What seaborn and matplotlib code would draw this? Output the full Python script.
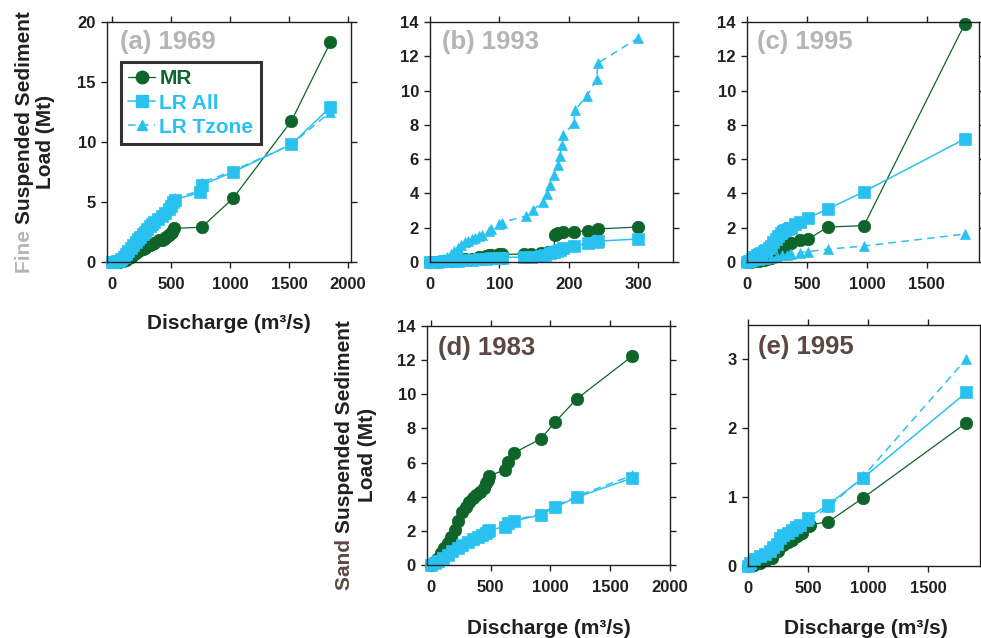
import matplotlib
matplotlib.use("Agg")
import matplotlib.pyplot as plt
from matplotlib.lines import Line2D
import seaborn as sns

# ---- data ----
# (a) 1969 fine
a_mr_x = [0, 30, 60, 90, 120, 140, 160, 180, 200, 220, 240, 260, 280, 300, 320, 340, 360, 400, 420, 440,
          460, 480, 500, 510, 525, 760, 1025, 1520, 1850]
a_mr_y = [0, 0, 0.02, 0.05, 0.15, 0.3, 0.45, 0.6, 0.75, 0.9, 1.0, 1.1, 1.2, 1.3, 1.4, 1.5, 1.6, 1.8, 1.85, 1.95,
          2.1, 2.25, 2.4, 2.5, 2.8, 2.9, 5.3, 11.75, 18.3]
a_all_x = [0, 20, 40, 60, 80, 100, 120, 140, 160, 180, 200, 220, 240, 260, 280, 300, 320, 340, 360, 390,
           420, 450, 480, 500, 520, 530, 750, 760, 1025, 1520, 1850]
a_all_y = [0, 0.02, 0.05, 0.12, 0.25, 0.45, 0.7, 0.95, 1.2, 1.45, 1.7, 1.9, 2.1, 2.3, 2.5, 2.75, 3.0, 3.2, 3.35, 3.6,
           3.85, 4.1, 4.4, 4.7, 5.0, 5.2, 5.8, 6.4, 7.5, 9.8, 12.9]
a_tz_x = a_all_x
a_tz_y = [0, 0.02, 0.05, 0.12, 0.25, 0.45, 0.7, 0.95, 1.2, 1.45, 1.7, 1.9, 2.1, 2.3, 2.5, 2.75, 3.0, 3.2, 3.35, 3.6,
          3.85, 4.1, 4.4, 4.75, 5.05, 5.3, 5.95, 6.6, 7.6, 9.8, 12.5]

# (b) 1993 fine
b_mr_x = [0, 10, 20, 30, 40, 50, 60, 70, 80, 85, 88, 100, 103, 136, 146, 160, 170, 178, 180, 182, 184, 191,
          207, 228, 242, 300]
b_mr_y = [0, 0.01, 0.03, 0.06, 0.1, 0.15, 0.2, 0.28, 0.35, 0.4, 0.43, 0.44, 0.45, 0.46, 0.48, 0.52, 0.56, 0.6,
          1.55, 1.62, 1.68, 1.75, 1.77, 1.82, 1.93, 2.04]
b_all_x = [0, 10, 20, 30, 40, 50, 60, 70, 80, 88, 100, 103, 136, 146, 160, 165, 173, 178, 183, 187, 191, 207,
           228, 240, 242, 300]
b_all_y = [0, 0.01, 0.03, 0.05, 0.08, 0.1, 0.13, 0.16, 0.2, 0.22, 0.25, 0.26, 0.3, 0.32, 0.36, 0.41, 0.52, 0.58,
           0.64, 0.72, 0.8, 0.93, 1.1, 1.18, 1.22, 1.34]
b_tz_x = [0, 5, 10, 15, 20, 25, 30, 35, 40, 45, 50, 55, 60, 65, 70, 75, 85, 88, 100, 103, 138, 148, 163, 169,
          173, 178, 184, 187, 190, 192, 207, 209, 226, 240, 242, 300]
b_tz_y = [0, 0.02, 0.05, 0.1, 0.18, 0.3, 0.45, 0.62, 0.8, 0.98, 1.15, 1.25, 1.35, 1.42, 1.5, 1.58, 1.8, 1.9,
          2.2, 2.3, 2.68, 3.03, 3.5, 3.97, 4.5, 5.1, 5.65, 6.2, 6.8, 7.4, 8.1, 8.87, 9.7, 10.65, 11.6, 13.07]

# (c) 1995 fine
c_mr_x = [0, 30, 60, 100, 140, 170, 200, 230, 260, 275, 290, 300, 315, 333, 350, 367, 442, 508, 675, 975, 1817]
c_mr_y = [0, 0.01, 0.03, 0.06, 0.1, 0.15, 0.25, 0.38, 0.52, 0.6, 0.68, 0.75, 0.88, 1.0, 1.08, 1.12, 1.29, 1.33,
          2.04, 2.12, 13.9]
c_all_x = [0, 20, 40, 60, 80, 100, 120, 140, 160, 180, 200, 220, 240, 260, 280, 300, 320, 340, 358, 367, 400,
           442, 508, 675, 975, 1817]
c_all_y = [0, 0.08, 0.18, 0.28, 0.38, 0.46, 0.55, 0.63, 0.7, 0.8, 0.95, 1.15, 1.35, 1.52, 1.68, 1.8, 1.88, 1.95,
           1.98, 2.0, 2.2, 2.35, 2.56, 3.1, 4.1, 7.18]
c_tz_x = [0, 50, 100, 150, 200, 250, 292, 333, 358, 367, 442, 508, 675, 975, 1817]
c_tz_y = [0, 0.04, 0.09, 0.15, 0.22, 0.3, 0.38, 0.42, 0.46, 0.48, 0.55, 0.6, 0.75, 0.93, 1.63]

# (d) 1983 sand
d_mr_x = [0, 20, 50, 80, 110, 140, 170, 200, 230, 260, 290, 320, 350, 380, 410, 440, 460, 475, 483, 617, 642,
          692, 917, 1040, 1218, 1685]
d_mr_y = [0, 0.1, 0.35, 0.7, 1.0, 1.3, 1.65, 2.05, 2.6, 3.1, 3.4, 3.7, 3.9, 4.1, 4.3, 4.5, 4.8, 5.0, 5.21, 5.57,
          6.03, 6.56, 7.38, 8.38, 9.72, 12.24]
d_all_x = [0, 30, 60, 100, 140, 180, 225, 260, 308, 350, 392, 430, 460, 475, 483, 617, 642, 692, 917, 1040,
           1225, 1685]
d_all_y = [0, 0.1, 0.25, 0.42, 0.6, 0.8, 1.0, 1.15, 1.35, 1.5, 1.64, 1.75, 1.9, 2.0, 2.05, 2.23, 2.45, 2.58,
           2.93, 3.4, 3.98, 5.1]
d_tz_x = d_all_x
d_tz_y = [0, 0.1, 0.25, 0.42, 0.6, 0.8, 1.0, 1.15, 1.35, 1.5, 1.64, 1.75, 1.9, 2.0, 2.08, 2.25, 2.48, 2.62,
          3.0, 3.45, 4.05, 5.25]

# (e) 1995 sand
e_mr_x = [0, 50, 100, 150, 200, 250, 292, 330, 367, 410, 450, 508, 517, 667, 958, 1817]
e_mr_y = [0, 0.02, 0.05, 0.08, 0.12, 0.22, 0.31, 0.35, 0.38, 0.43, 0.48, 0.58, 0.6, 0.64, 0.99, 2.08]
e_all_x = [0, 20, 50, 100, 140, 183, 210, 242, 270, 292, 330, 367, 400, 433, 500, 667, 958, 1817]
e_all_y = [0, 0.05, 0.1, 0.15, 0.18, 0.22, 0.27, 0.32, 0.4, 0.45, 0.48, 0.52, 0.56, 0.6, 0.7, 0.89, 1.28, 2.52]
e_tz_x = e_all_x
e_tz_y = [0, 0.05, 0.1, 0.15, 0.18, 0.22, 0.27, 0.32, 0.4, 0.45, 0.48, 0.52, 0.56, 0.6, 0.66, 0.85, 1.3, 3.01]

GREEN = "#0e6429"
BLUE = "#29c2f0"
GRAY = "#b5b5b5"
BROWN = "#5c4842"
INK = "#231f20"

W, H = 981, 638

sns.set_theme(style="ticks")
plt.rcParams["font.family"] = ["Liberation Sans", "DejaVu Sans"]
plt.rcParams["font.weight"] = "bold"

fig = plt.figure(figsize=(W / 100, H / 100), dpi=100)


def px_axes(left, top, right, bottom):
    return fig.add_axes([left / W, 1 - bottom / H, (right - left) / W, (bottom - top) / H])


def draw_series(ax, x, y, color, marker, ms, ls="-", lw=1.0):
    sns.lineplot(x=x, y=y, ax=ax, color=color, marker=marker, markersize=ms, linestyle=ls,
                 linewidth=lw, markeredgecolor=color, markeredgewidth=0.5, estimator=None,
                 sort=False, legend=False, clip_on=False)


def panel(ax, series, xlim, ylim, xticks, yticks, title, tcolor, tx, ty):
    mr, al, tz = series
    draw_series(ax, *mr, GREEN, "o", 9, lw=0.9)
    draw_series(ax, *al, BLUE, "s", 8, lw=1.1)
    draw_series(ax, *tz, BLUE, "^", 7, ls=(0, (5, 3.5)), lw=1.1)
    ax.set_xlim(*xlim)
    ax.set_ylim(*ylim)
    ax.set_xticks(xticks)
    ax.set_yticks(yticks)
    ax.tick_params(direction="out", top=True, right=True, length=4, width=1, colors=INK,
                   labelsize=12)
    ax.tick_params(axis="x", pad=7)
    ax.tick_params(axis="y", pad=4)
    for lab in ax.get_xticklabels() + ax.get_yticklabels():
        lab.set_fontweight("bold")
    for sp in ax.spines.values():
        sp.set_visible(True)
        sp.set_linewidth(1.0)
        sp.set_color(INK)
    ax.set_xlabel("")
    ax.set_ylabel("")
    ax.text(tx, ty, title, transform=ax.transAxes, ha="left", va="top", fontsize=18.5,
            fontweight="bold", color=tcolor)


ax_a = px_axes(107, 22, 351, 262)
panel(ax_a, [(a_mr_x, a_mr_y), (a_all_x, a_all_y), (a_tz_x, a_tz_y)], (-42, 2025), (0, 20),
      [0, 500, 1000, 1500, 2000], [0, 5, 10, 15, 20], "(a) 1969", GRAY, 0.053, 0.965)

ax_b = px_axes(430, 22, 673, 262)
panel(ax_b, [(b_mr_x, b_mr_y), (b_all_x, b_all_y), (b_tz_x, b_tz_y)], (0, 350), (0, 14),
      [0, 100, 200, 300], list(range(0, 15, 2)), "(b) 1993", GRAY, 0.049, 0.965)

ax_c = px_axes(747, 22, 979, 262)
panel(ax_c, [(c_mr_x, c_mr_y), (c_all_x, c_all_y), (c_tz_x, c_tz_y)], (0, 1935), (0, 14),
      [0, 500, 1000, 1500], list(range(0, 15, 2)), "(c) 1995", GRAY, 0.043, 0.965)

ax_d = px_axes(427, 326, 670, 565)
panel(ax_d, [(d_mr_x, d_mr_y), (d_all_x, d_all_y), (d_tz_x, d_tz_y)], (-33, 2000), (0, 14),
      [0, 500, 1000, 1500, 2000], list(range(0, 15, 2)), "(d) 1983", BROWN, 0.045, 0.96)

ax_e = px_axes(748, 325, 980, 566)
panel(ax_e, [(e_mr_x, e_mr_y), (e_all_x, e_all_y), (e_tz_x, e_tz_y)], (0, 1930), (0, 3.5),
      [0, 500, 1000, 1500], [0, 1, 2, 3], "(e) 1995", BROWN, 0.043, 0.96)

# legend in panel (a)
handles = [
    Line2D([], [], color=GREEN, marker="o", markersize=9, linewidth=0.9, markeredgecolor=GREEN),
    Line2D([], [], color=BLUE, marker="s", markersize=8, linewidth=1.1, markeredgecolor=BLUE),
    Line2D([], [], color=BLUE, marker="^", markersize=7, linewidth=1.1, linestyle=(0, (5, 3.5)),
           markeredgecolor=BLUE),
]
leg = ax_a.legend(handles, ["MR", "LR All", "LR Tzone"], loc="upper left",
                  bbox_to_anchor=(0.057, 0.833), borderaxespad=0, frameon=True, fancybox=False,
                  prop={"size": 15, "weight": "bold"}, handlelength=1.3, handletextpad=0.2,
                  labelspacing=0.25, borderpad=0.35, numpoints=1)
leg.get_frame().set_edgecolor("black")
leg.get_frame().set_linewidth(2.2)
for txt, c in zip(leg.get_texts(), [GREEN, BLUE, BLUE]):
    txt.set_color(c)

# axis labels
LBL = dict(fontsize=15, fontweight="bold")
fig.canvas.draw()
renderer = fig.canvas.get_renderer()


def ylabel_two_tone(x_base1, x_base2, y_center, word, word_color):
    t1 = fig.text(x_base1 / W, 0, word + " ", rotation=90, rotation_mode="anchor", ha="left",
                  va="baseline", color=word_color, **LBL)
    t2 = fig.text(x_base1 / W, 0, "Suspended Sediment", rotation=90, rotation_mode="anchor",
                  ha="left", va="baseline", color=INK, **LBL)
    h1 = t1.get_window_extent(renderer).height
    h2 = t2.get_window_extent(renderer).height
    y0 = y_center - (h1 + h2) / 2
    t1.set_y(y0 / H)
    t2.set_y((y0 + h1) / H)
    fig.text(x_base2 / W, y_center / H, "Load (Mt)", rotation=90, rotation_mode="anchor",
             ha="center", va="baseline", color=INK, **LBL)


ylabel_two_tone(30, 51, H - 142, "Fine", GRAY)
ylabel_two_tone(350, 373, H - 455, "Sand", BROWN)

fig.text(229 / W, 1 - 329 / H, "Discharge (m³/s)", ha="center", va="baseline", color=INK, **LBL)
fig.text(549 / W, 1 - 634 / H, "Discharge (m³/s)", ha="center", va="baseline", color=INK, **LBL)
fig.text(866 / W, 1 - 634 / H, "Discharge (m³/s)", ha="center", va="baseline", color=INK, **LBL)

fig.savefig("out.png", dpi=100)
